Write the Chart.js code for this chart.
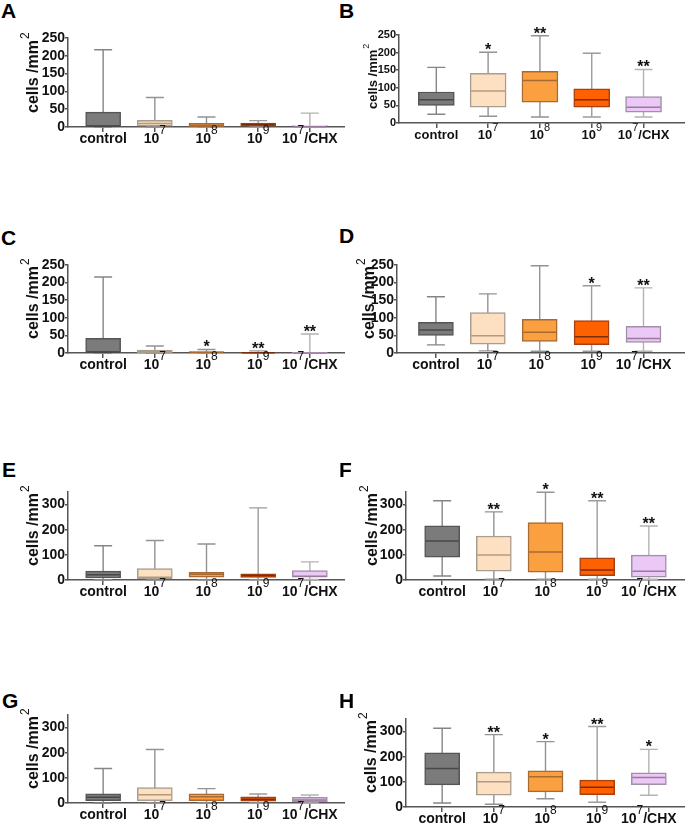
<!DOCTYPE html>
<html>
<head>
<meta charset="utf-8">
<script src="https://cdn.jsdelivr.net/npm/chart.js@4.4.1/dist/chart.umd.min.js"></script>
<style>
  body { margin: 0; background: #fff; width: 685px; height: 824px; position: relative; overflow: hidden; }
  canvas { position: absolute; }
  .tag { position: absolute; font: bold 21px "Liberation Sans", Arial, sans-serif; line-height: 21px; color: #000; }
</style>
</head>
<body>
<script>
// groups on the x axis: base text + superscript + tail
const groupBase = ['control', '10', '10', '10', '10'];
const groupSup = ['', '7', '8', '9', '7'];
const groupTail = ['', '', '', '', '/CHX'];

// y tick values
const ticks250 = [0, 50, 100, 150, 200, 250];
const ticks300 = [0, 100, 200, 300];

// each box: [min, q1, median, q3, max]
const boxA = [[0, 0, 2, 42, 217], [0, 2, 10, 19, 83], [0, 1, 5, 10, 28], [0, 2, 7, 11, 18], [0, 0, 1, 4, 39]];
const starsA = ['', '', '', '', ''];
const boxB = [[25, 50, 66, 88, 158], [19, 45, 91, 141, 201], [17, 59, 121, 147, 248], [17, 45, 66, 97, 198], [17, 31, 45, 75, 152]];
const starsB = ['', '*', '**', '', '**'];
const boxC = [[0, 0, 2, 42, 216], [0, 1, 4, 8, 20], [0, 0, 2, 4, 10], [0, 0, 1, 2, 6], [0, 0, 0, 1, 54]];
const starsC = ['', '', '*', '**', '**'];
const boxD = [[23, 50, 65, 87, 160], [6, 25, 49, 115, 168], [5, 33, 59, 96, 248], [5, 24, 46, 92, 191], [5, 30, 41, 76, 185]];
const starsD = ['', '', '', '*', '**'];
const boxE = [[1, 8, 21, 35, 136], [0, 4, 11, 45, 157], [0, 11, 23, 31, 143], [0, 10, 18, 25, 287], [2, 11, 15, 37, 72]];
const starsE = ['', '', '', '', ''];
const boxF = [[16, 91, 155, 215, 315], [3, 35, 99, 175, 271], [3, 31, 111, 228, 349], [3, 17, 40, 88, 315], [3, 11, 35, 99, 215]];
const starsF = ['', '**', '*', '**', '**'];
const boxG = [[0, 9, 23, 36, 137], [0, 9, 33, 61, 213], [0, 9, 25, 36, 57], [0, 7, 15, 25, 36], [0, 5, 12, 23, 32]];
const starsG = ['', '', '', '', ''];
const boxH = [[16, 88, 153, 215, 313], [11, 47, 100, 139, 288], [33, 60, 120, 144, 260], [19, 49, 79, 107, 320], [47, 89, 117, 136, 229]];
const starsH = ['', '**', '*', '**', '*'];

const fillColors = ['#7b7b7b', '#fde0c2', '#fba040', '#ff6000', '#ebc8f5'];
const edgeColors = ['#555555', '#a99d90', '#a86a30', '#a84010', '#a090a8'];
const medianColors = ['#474747', '#b09a80', '#a86a30', '#7a2e08', '#9a7a9a'];
const whiskerColors = ['#858585', '#939393', '#939393', '#9c9c9c', '#b3b3b3'];

const fam = '"Liberation Sans", Arial, sans-serif';
Chart.defaults.font.family = fam;
Chart.defaults.animation = false;

const panels = [
  { tag: 'A', left: 0, top: 38, bottom: 127, axisX: 68, yMax: 250, yTicks: ticks250, xMin: -0.68, xMax: 4.68, box: boxA, stars: starsA, tick: 14, label: 14, title: 16, titleX: 38, tagX: 1, tagY: 0, boxW: 35 },
  { tag: 'B', left: 340, top: 35, bottom: 123, axisX: 399, yMax: 250, yTicks: ticks250, xMin: -0.72, xMax: 4.8, box: boxB, stars: starsB, tick: 11, label: 13, title: 13, titleX: 377, tagX: 339, tagY: 0, boxW: 36 },
  { tag: 'C', left: 0, top: 265, bottom: 353, axisX: 68, yMax: 250, yTicks: ticks250, xMin: -0.68, xMax: 4.68, box: boxC, stars: starsC, tick: 14, label: 14, title: 16, titleX: 38, tagX: 1, tagY: 227, boxW: 35 },
  { tag: 'D', left: 340, top: 265, bottom: 353, axisX: 397, yMax: 250, yTicks: ticks250, xMin: -0.75, xMax: 4.8, box: boxD, stars: starsD, tick: 14, label: 14, title: 16, titleX: 374, tagX: 339, tagY: 225, boxW: 35 },
  { tag: 'E', left: 0, top: 491.5, bottom: 579, axisX: 68, yMax: 350, yTicks: ticks300, xMin: -0.68, xMax: 4.68, box: boxE, stars: starsE, tick: 14, label: 14, title: 16, titleX: 38, tagX: 2, tagY: 459, boxW: 35 },
  { tag: 'F', left: 340, top: 491.5, bottom: 579, axisX: 406, yMax: 350, yTicks: ticks300, xMin: -0.7, xMax: 4.7, box: boxF, stars: starsF, tick: 14, label: 14, title: 16, titleX: 377, tagX: 339, tagY: 459, boxW: 35 },
  { tag: 'G', left: 0, top: 714.5, bottom: 802, axisX: 68, yMax: 350, yTicks: ticks300, xMin: -0.68, xMax: 4.68, box: boxG, stars: starsG, tick: 14, label: 14, title: 16, titleX: 38, tagX: 2, tagY: 690, boxW: 35 },
  { tag: 'H', left: 340, top: 718.5, bottom: 806, axisX: 406, yMax: 350, yTicks: ticks300, xMin: -0.7, xMax: 4.7, box: boxH, stars: starsH, tick: 14, label: 14, title: 16, titleX: 376, tagX: 339, tagY: 690, boxW: 35 }
];

const PAD_TOP = 14;
const X_AXIS_H = 32;
const CANVAS_W = 345;

function boxPlugin(p) {
  return {
    id: 'boxParts' + p.tag,
    beforeDatasetsDraw(chart) {
      const ctx = chart.ctx, xs = chart.scales.x, ys = chart.scales.y;
      ctx.save();
      ctx.lineWidth = 1.4;
      p.box.forEach((b, i) => {
        const x = xs.getPixelForValue(i);
        const yLo = ys.getPixelForValue(b[0]);
        const yHi = ys.getPixelForValue(b[4]);
        ctx.strokeStyle = whiskerColors[i];
        ctx.beginPath();
        ctx.moveTo(x, yLo); ctx.lineTo(x, yHi);
        ctx.moveTo(x - 9, yLo); ctx.lineTo(x + 9, yLo);
        ctx.moveTo(x - 9, yHi); ctx.lineTo(x + 9, yHi);
        ctx.stroke();
      });
      ctx.restore();
    },
    afterDatasetsDraw(chart) {
      const ctx = chart.ctx, xs = chart.scales.x, ys = chart.scales.y;
      ctx.save();
      ctx.lineWidth = 1.5;
      p.box.forEach((b, i) => {
        const x = xs.getPixelForValue(i);
        const ym = ys.getPixelForValue(b[2]);
        ctx.strokeStyle = medianColors[i];
        ctx.beginPath();
        ctx.moveTo(x - p.boxW / 2 + 1, ym);
        ctx.lineTo(x + p.boxW / 2 - 1, ym);
        ctx.stroke();
        if (p.stars[i]) {
          ctx.fillStyle = '#111';
          ctx.font = 'bold 16px ' + fam;
          ctx.textAlign = 'center';
          ctx.textBaseline = 'alphabetic';
          ctx.fillText(p.stars[i], x, ys.getPixelForValue(b[4]) + 3);
        }
      });
      ctx.restore();
    },
    afterDraw(chart) {
      const ctx = chart.ctx, xs = chart.scales.x, area = chart.chartArea;
      ctx.save();
      ctx.fillStyle = '#111';
      ctx.textBaseline = 'alphabetic';
      ctx.textAlign = 'left';
      const supSize = Math.round(p.label * 0.85);
      groupBase.forEach((base, i) => {
        const x = xs.getPixelForValue(i);
        ctx.font = 'bold ' + p.label + 'px ' + fam;
        const wb = ctx.measureText(base).width;
        const wt = ctx.measureText(groupTail[i]).width;
        ctx.font = supSize + 'px ' + fam;
        const ws = groupSup[i] ? ctx.measureText(groupSup[i]).width : 0;
        const x0 = x - (wb + ws + wt) / 2;
        const yb = area.bottom + 16;
        ctx.font = 'bold ' + p.label + 'px ' + fam;
        ctx.fillText(base, x0, yb);
        if (groupSup[i]) {
          ctx.font = supSize + 'px ' + fam;
          ctx.fillText(groupSup[i], x0 + wb, yb - Math.round(p.label * 0.62));
        }
        if (groupTail[i]) {
          ctx.font = 'bold ' + p.label + 'px ' + fam;
          ctx.fillText(groupTail[i], x0 + wb + ws, yb);
        }
      });
      // y axis title, rotated
      ctx.translate(p.titleX - p.left, area.bottom - 14);
      ctx.rotate(-Math.PI / 2);
      ctx.font = 'bold ' + p.title + 'px ' + fam;
      const main = 'cells /mm';
      ctx.fillText(main, 0, 0);
      const wm = ctx.measureText(main).width;
      ctx.font = Math.round(p.title * 0.72) + 'px ' + fam;
      ctx.fillText('2', wm + 1, -Math.round(p.title * 0.58));
      ctx.restore();
    }
  };
}

panels.forEach(p => {
  const tag = document.createElement('div');
  tag.className = 'tag';
  tag.textContent = p.tag;
  tag.style.left = p.tagX + 'px';
  tag.style.top = p.tagY + 'px';
  document.body.appendChild(tag);

  const cv = document.createElement('canvas');
  const h = Math.round(PAD_TOP + (p.bottom - p.top) + X_AXIS_H);
  cv.width = CANVAS_W;
  cv.height = h;
  cv.style.left = p.left + 'px';
  cv.style.top = (p.top - PAD_TOP) + 'px';
  cv.style.width = CANVAS_W + 'px';
  cv.style.height = h + 'px';
  document.body.appendChild(cv);

  new Chart(cv, {
    type: 'bar',
    data: {
      datasets: [{
        data: p.box.map((b, i) => ({ x: i, y: [b[1], b[3]] })),
        backgroundColor: fillColors,
        borderColor: edgeColors,
        borderWidth: 1.5,
        borderSkipped: false,
        barThickness: p.boxW
      }]
    },
    options: {
      responsive: false,
      devicePixelRatio: 1,
      layout: { padding: { top: PAD_TOP, right: 0, bottom: 0, left: 0 } },
      plugins: { legend: { display: false }, tooltip: { enabled: false } },
      scales: {
        x: {
          type: 'linear',
          min: p.xMin,
          max: p.xMax,
          offset: false,
          afterBuildTicks: s => { s.ticks = groupBase.map((g, i) => ({ value: i })); },
          afterFit: s => { s.height = X_AXIS_H; },
          ticks: { display: false },
          grid: { drawOnChartArea: false, offset: false, color: '#555', lineWidth: 1.5, tickLength: 5 },
          border: { color: '#555', width: 1.5 }
        },
        y: {
          min: 0,
          max: p.yMax,
          afterBuildTicks: s => { s.ticks = p.yTicks.map(v => ({ value: v })); },
          afterFit: s => { s.width = p.axisX - p.left; },
          ticks: { autoSkip: false, color: '#111', padding: 0, font: { weight: 'bold', size: p.tick } },
          grid: { drawOnChartArea: false, color: '#555', lineWidth: 1.5, tickLength: 3 },
          border: { color: '#555', width: 1.5 }
        }
      }
    },
    plugins: [boxPlugin(p)]
  });
});
</script>
</body>
</html>
